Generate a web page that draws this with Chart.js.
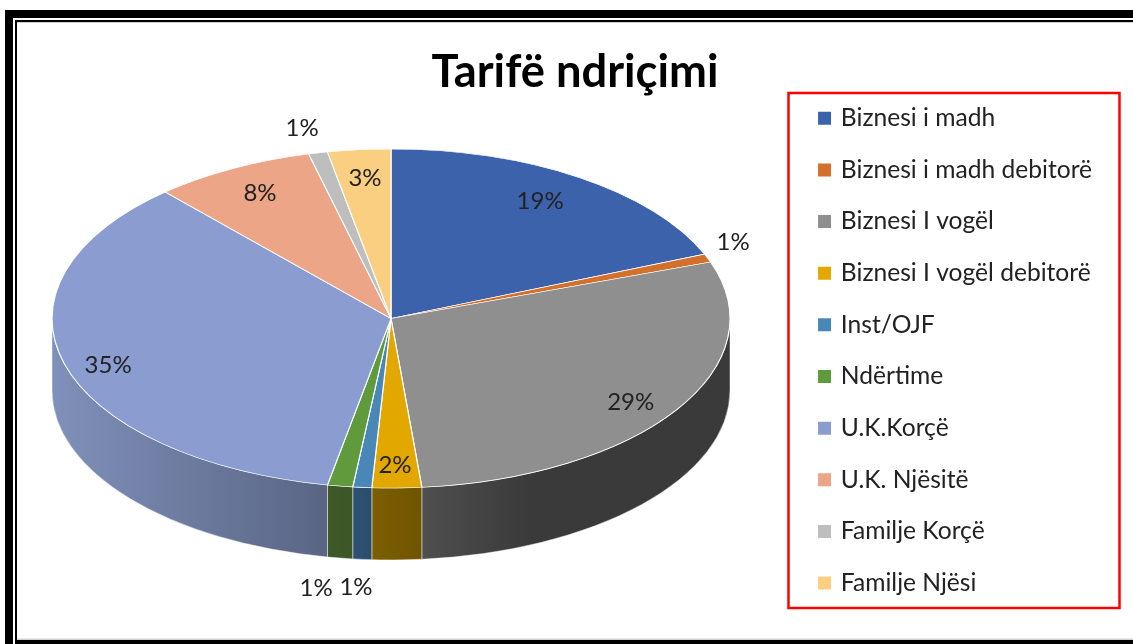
<!DOCTYPE html>
<html>
<head>
<meta charset="utf-8">
<style>html,body{margin:0;padding:0;background:#fff;overflow:hidden}#w{position:relative;width:1133px;height:644px}</style>
<script src="https://cdn.jsdelivr.net/npm/chart.js@4"></script>
</head>
<body>
<div id="w"><canvas id="c" width="1133" height="644"></canvas></div>
<script>
const chartTitle = "Tarifë ndriçimi";
const categories = ["Biznesi i madh","Biznesi i madh debitorë","Biznesi I vogël","Biznesi I vogël debitorë","Inst/OJF","Ndërtime","U.K.Korçë","U.K. Njësitë","Familje Korçë","Familje Njësi"];
const shares = [18.8,0.8,28.95,2.35,0.9,1.2,35.4,7.7,0.9,3.0];
const sliceColors = ["#3c62ac","#d2702c","#8f8f8f","#e2a800","#4a87b9","#5f9a3c","#8b9dd0","#eca586","#bebebe","#fbcf81"];
const wallLeft  = ["#2a4678","#8c4a1c","#4f4f4f","#7d5e00","#2d5274","#3f5a28","#8090ba","#8f6350","#737373","#97794a"];
const wallRight = ["#2a4678","#8c4a1c","#3a3a3a","#705400","#2b4d6c","#3c5626","#596583","#8f6350","#737373","#97794a"];
const labelFx = [0.79,1.08,0.84,0.68,1.22,1.47,0.866,0.826,1.22,0.815];
const labelFy = [0.835,1.27,0.913,0.864,1.59,1.61,1.03,0.838,1.15,0.832];

const TILT = 0.5, DEPTH = 72, CX = 391, CY = 318.5, RADIUS = 339;
const FONT = "Lato, Carlito, sans-serif";
const TEXT = "#222222";

const pie3d = {
  id: "pie3d",
  beforeDraw(chart) {
    const c = chart.ctx;
    c.save();
    c.fillStyle = "#000";
    c.fillRect(5, 10, 1128, 8);
    c.fillRect(5, 10, 8, 634);
    c.fillRect(15, 20, 1118, 2);
    c.fillRect(15, 20, 2, 624);
    c.fillRect(15, 640, 1118, 4);
    c.fillStyle = "#d0d0d0";
    c.fillRect(17, 22, 1116, 1);
    c.fillRect(17, 638.5, 1116, 1.5);
    c.strokeStyle = "#ff0000";
    c.lineWidth = 2.5;
    c.strokeRect(788.5, 93, 331, 515);
    c.restore();
  },
  afterLayout(chart) {
    chart.chartArea = {left: CX - 390, right: CX + 390, top: CY - 318, bottom: CY + 318,
      width: 780, height: 636};
    const l = chart.legend;
    l.left = 793.5; l.top = 78.9; l.right = 1118; l.bottom = 640;
    l.width = l.right - l.left; l.height = l.bottom - l.top;
    const t = chart.titleBlock;
    t.left = 17; t.right = 1133; t.width = 1116;
    t.top = 0; t.bottom = 144; t.height = 144;
  },
  beforeDatasetsDraw(chart) {
    const c = chart.ctx;
    const arcs = chart.getDatasetMeta(0).data;
    c.save();
    arcs.forEach((a, i) => {
      const s = Math.max(a.startAngle, 0), e = Math.min(a.endAngle, Math.PI);
      if (e <= s) return;
      const rx = a.outerRadius, ry = rx * TILT;
      const cy = CY;
      const x0 = a.x + rx * Math.cos(e), x1 = a.x + rx * Math.cos(s);
      const g = c.createLinearGradient(x0, 0, x1, 0);
      g.addColorStop(0, wallLeft[i]);
      g.addColorStop(i === 2 ? 0.35 : 1, wallRight[i]);
      c.beginPath();
      c.ellipse(a.x, cy, rx, ry, 0, s, e);
      c.ellipse(a.x, cy + DEPTH, rx, ry, 0, e, s, true);
      c.closePath();
      c.fillStyle = g;
      c.fill();
      c.strokeStyle = "rgba(255,255,255,0.45)";
      c.lineWidth = 1;
      c.stroke();
    });
    c.restore();
    c.save();
    const y0 = arcs[0].y;
    c.translate(0, CY);
    c.scale(1, TILT);
    c.translate(0, -y0);
  },
  afterDatasetsDraw(chart) {
    const c = chart.ctx;
    c.restore();
    const arcs = chart.getDatasetMeta(0).data;
    const total = shares.reduce((p, v) => p + v, 0);
    c.save();
    c.font = "24px " + FONT;
    c.fillStyle = TEXT;
    c.textAlign = "center";
    c.textBaseline = "middle";
    arcs.forEach((a, i) => {
      const m = (a.startAngle + a.endAngle) / 2;
      const x = a.x + a.outerRadius * labelFx[i] * Math.cos(m);
      const y = CY + a.outerRadius * TILT * labelFy[i] * Math.sin(m);
      c.fillText(Math.round(shares[i] / total * 100) + "%", x, y);
    });
    c.restore();
  }
};

new Chart(document.getElementById("c"), {
  type: "pie",
  plugins: [pie3d],
  data: {
    labels: categories,
    datasets: [{
      data: shares,
      backgroundColor: sliceColors,
      borderColor: "#ffffff",
      borderWidth: 1.2,
      radius: RADIUS,
      clip: false
    }]
  },
  options: {
    responsive: false,
    animation: false,
    events: [],
    plugins: {
      tooltip: {enabled: false},
      title: {
        display: true,
        text: chartTitle,
        color: "#000",
        font: {family: FONT, size: 45.3, weight: "bold", lineHeight: 1.2},
        padding: {top: 45, bottom: 45}
      },
      legend: {
        display: true,
        position: "right",
        align: "start",
        labels: {
          boxWidth: 8,
          boxHeight: 8,
          padding: 27.05,
          color: TEXT,
          font: {family: FONT, size: 24.6},
          generateLabels(chart) {
            return categories.map((text, index) => ({
              text, index,
              fillStyle: sliceColors[index],
              strokeStyle: sliceColors[index],
              lineWidth: 5,
              fontColor: TEXT,
              hidden: false
            }));
          }
        }
      }
    }
  }
});
</script>
</body>
</html>
